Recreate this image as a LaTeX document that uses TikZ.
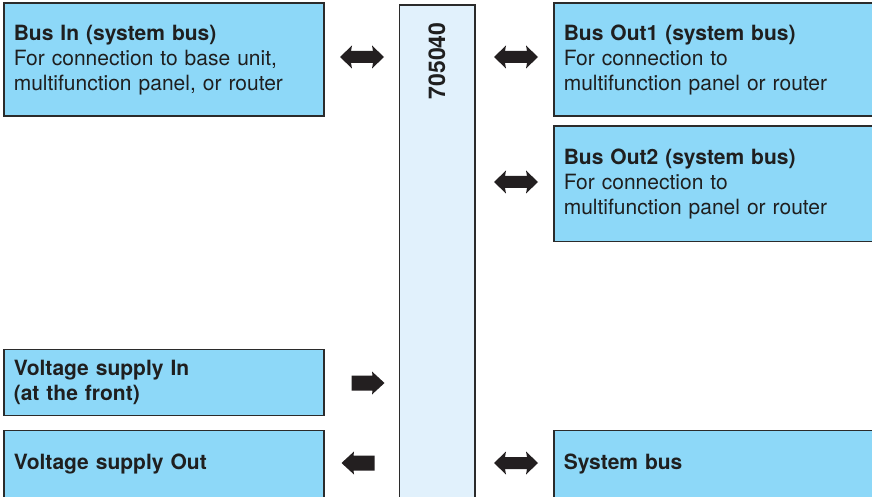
\documentclass[tikz,border=0pt]{standalone}
\usepackage{fontspec}
\setmainfont{TeX Gyre Heros}
\definecolor{boxblue}{HTML}{8DD8F8}
\definecolor{paleblue}{HTML}{E1F1FC}
\definecolor{edge}{HTML}{2B2B2B}
\definecolor{arrowblk}{HTML}{231F20}
\tikzset{
  infobox/.style={draw=edge, line width=1.6pt, fill=boxblue, minimum width=320pt,
    text width=300pt, inner xsep=10pt, align=left, anchor=north west,
    font=\fontsize{21}{25}\selectfont, text=black!88},
  dblarrow/.pic={\fill[arrowblk] (-22,0) -- (-10,-11.5) -- (-11,-6) -- (11,-6) -- (10,-11.5)
      -- (22,0) -- (10,11.5) -- (11,6) -- (-11,6) -- (-10,11.5) -- cycle;},
  rarrow/.pic={\fill[arrowblk] (-16.5,-7.5) -- (4.5,-7.5) -- (4,-11.5) -- (16.5,0)
      -- (4,11.5) -- (4.5,7.5) -- (-16.5,7.5) -- cycle;}
}
\begin{document}
\begin{tikzpicture}[x=1pt,y=-1pt]
\useasboundingbox (0,0) rectangle (872,497);
% central module
\draw[draw=edge, line width=1.6pt, fill=paleblue] (399.5,5) rectangle (475,500);
\node[rotate=90, font=\bfseries\fontsize{23}{25}\selectfont, text=black!88, anchor=east] (id) at (437,19) {705040};
% boxes
\node[infobox, minimum height=113pt] (busin) at (3,2.5) {\textbf{Bus In (system bus)}\\For connection to base unit,\\multifunction panel, or router};
\node[infobox, minimum height=113pt] (out1) at (553,2.5) {\textbf{Bus Out1 (system bus)}\\For connection to\\multifunction panel or router};
\node[infobox, minimum height=115pt] (out2) at (553,125.5) {\textbf{Bus Out2 (system bus)}\\For connection to\\multifunction panel or router};
\node[infobox, minimum height=66pt] (vin) at (3,348.5) {\textbf{Voltage supply In}\\\textbf{(at the front)}};
\node[infobox, minimum height=67pt] (vout) at (3,429.5) {\textbf{Voltage supply Out}};
\node[infobox, minimum height=67pt] (sbus) at (553,429.5) {\textbf{System bus}};
% arrows
\pic (a1) at (362,57) {dblarrow};
\pic (a2) at (516,57) {dblarrow};
\pic (a3) at (516,182) {dblarrow};
\pic (a4) at (516,463) {dblarrow};
\pic (a5) at (368,383) {rarrow};
\pic[rotate=180] (a6) at (358,463) {rarrow};
\end{tikzpicture}
\end{document}
